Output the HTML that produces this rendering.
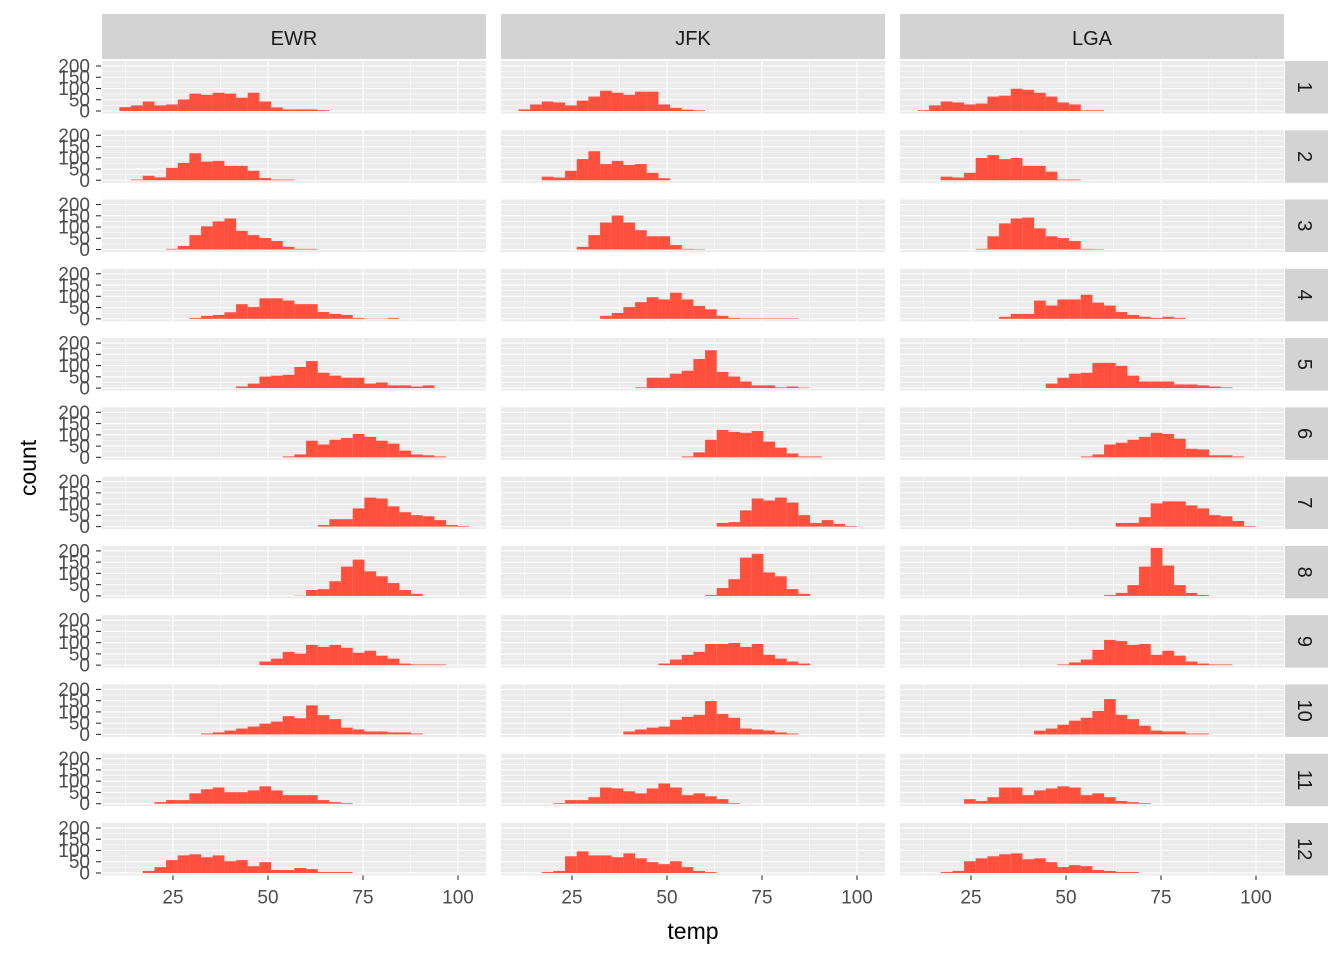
<!DOCTYPE html>
<html><head><meta charset="utf-8"><style>
html,body{margin:0;padding:0;background:#fff;}
svg{display:block;font-family:"Liberation Sans",Arial,sans-serif;}
</style></head><body>
<svg id="chart" width="1344" height="960" viewBox="0 0 1344 960" xmlns="http://www.w3.org/2000/svg"></svg>
<script>
const origins = ["EWR","JFK","LGA"];
const months = ["1","2","3","4","5","6","7","8","9","10","11","12"];
const xTicks = [25,50,75,100];
const yTicks = [0,50,100,150,200];
const binMin = 10.9;
const binWidth = 3.07;
const ewrStart = [0,1,4,6,10,14,17,15,12,7,3,2];
const jfkStart = [0,2,5,7,10,14,17,16,12,9,3,2];
const lgaStart = [0,2,5,7,11,14,17,16,12,10,4,2];
const ewrCounts = [
 [17,25,42,25,29,51,77,72,81,77,59,81,42,16,7,7,7,3],
 [3,20,13,55,77,120,83,86,64,64,42,10,3,3],
 [3,16,64,103,125,138,83,64,51,38,12,3,3],
 [4,13,17,29,65,52,91,91,81,65,65,30,22,17,4,1,1,4],
 [7,20,51,55,59,94,120,68,55,46,46,20,25,12,12,7,12],
 [4,13,74,57,78,86,104,91,74,61,30,13,9,4],
 [7,33,33,81,129,125,90,64,51,46,29,7,3],
 [1,26,30,65,130,161,109,87,57,26,9],
 [16,29,59,51,90,81,90,77,55,64,42,29,7,3,3,3],
 [4,9,17,26,35,48,57,81,72,129,86,68,30,22,13,13,9,9,4],
 [7,16,16,46,64,72,51,51,59,77,59,38,38,38,16,7,3],
 [9,26,57,78,83,70,78,52,57,30,48,13,13,22,17,4,4,4]
];
const jfkCounts = [
 [7,29,42,38,25,46,64,90,81,72,86,86,29,14,6,3],
 [16,12,42,94,129,72,86,68,72,33,9],
 [12,64,120,151,120,86,59,59,20,3,2],
 [13,26,52,74,96,86,116,86,57,42,13,4,2,2,2,2,2],
 [3,46,46,64,77,129,168,72,51,29,12,12,3,7,2],
 [4,22,78,122,113,109,117,70,43,17,4,4],
 [16,20,72,125,116,129,107,51,16,29,12,3],
 [4,35,74,170,187,104,87,30,9],
 [7,25,46,59,94,94,99,81,94,46,29,16,7],
 [13,22,30,35,65,78,87,148,91,74,26,22,17,9,4],
 [3,16,16,29,72,68,55,46,68,90,72,38,46,33,20,3],
 [4,9,74,96,78,78,70,87,65,48,39,52,26,9,4]
];
const lgaCounts = [
 [3,25,42,38,29,33,64,68,99,94,81,64,38,29,3,3],
 [16,12,33,99,112,94,99,64,64,38,3,3],
 [3,59,116,138,142,94,59,51,38,3,2],
 [9,22,22,81,59,86,86,107,72,59,30,17,9,4,9,4],
 [20,46,64,68,112,112,99,55,29,29,29,16,16,12,7,3],
 [4,13,57,65,78,91,109,104,83,38,35,9,9,4],
 [16,16,42,103,112,112,94,81,51,46,25,3],
 [4,13,48,130,213,135,48,13,4],
 [3,12,25,68,112,107,90,94,46,64,42,16,7,3,3],
 [17,26,43,61,74,104,157,87,68,39,17,13,13,4,4],
 [20,12,29,72,72,38,59,68,77,72,38,46,29,12,7,3],
 [4,9,52,65,74,83,87,61,65,48,26,35,30,13,9,4,4]
];
const starts = [ewrStart, jfkStart, lgaStart];
const counts = [ewrCounts, jfkCounts, lgaCounts];

const NS = "http://www.w3.org/2000/svg";
const svg = document.getElementById("chart");
function mk(tag, attrs, parent){
  const e = document.createElementNS(NS, tag);
  for (const k in attrs) e.setAttribute(k, attrs[k]);
  (parent||svg).appendChild(e);
  return e;
}
const panelLeft = [102,501,900];
const panelW = 384;
const xMin = 6.32, xMax = 107.37;
const topY = 61, rowStep = 69.27, panelH = 52.5;
const yMin = -11.1, yMax = 222.2;
function xs(c, v){ return panelLeft[c] + (v - xMin) / (xMax - xMin) * panelW; }
function ys(r, v){ const t = topY + r*rowStep; return t + panelH - (v - yMin)/(yMax - yMin)*panelH; }
const bar = "#FF4F3D";

origins.forEach((o,c)=>{
  const s = mk("rect",{x:panelLeft[c],y:14,width:panelW,height:45,fill:"#D3D3D3"});
  
  
  const t = mk("text",{x:panelLeft[c]+panelW/2,y:45,"text-anchor":"middle","font-size":"20",fill:"#1A1A1A"});
  t.textContent = o;
  
  
});

months.forEach((m,r)=>{
  const top = topY + r*rowStep;
  const rs = mk("rect",{x:1285,y:top,width:43,height:panelH,fill:"#D3D3D3"});
  
  
  const rt = mk("text",{x:0,y:0,"text-anchor":"middle","font-size":"20",fill:"#1A1A1A",transform:`translate(1298,${top+panelH/2}) rotate(90)`});
  rt.textContent = m;
  
  
  yTicks.forEach(v=>{
    const y = ys(r,v);
    const tl = mk("text",{x:90,y:y+6.5,"text-anchor":"end","font-size":"19",fill:"#4D4D4D"});
    tl.textContent = v;
    
    
    mk("line",{x1:96,x2:101,y1:y,y2:y,stroke:"#333","stroke-width":1.1});
  });
  for (let c=0;c<3;c++){
    const g = mk("g",{});
    
    
    mk("rect",{x:panelLeft[c],y:top,width:panelW,height:panelH,fill:"#EBEBEB"},g);
    yTicks.forEach((v,i)=>{
      if (i<yTicks.length-1){ const ym = ys(r,v+25); mk("line",{x1:panelLeft[c],x2:panelLeft[c]+panelW,y1:ym,y2:ym,stroke:"#fff","stroke-width":0.55},g); }
    });
    [12.5,37.5,62.5,87.5].forEach(v=>{ const x=xs(c,v); mk("line",{x1:x,x2:x,y1:top,y2:top+panelH,stroke:"#fff","stroke-width":0.55},g); });
    yTicks.forEach(v=>{ const y=ys(r,v); mk("line",{x1:panelLeft[c],x2:panelLeft[c]+panelW,y1:y,y2:y,stroke:"#fff","stroke-width":1.1},g); });
    xTicks.forEach(v=>{ const x=xs(c,v); mk("line",{x1:x,x2:x,y1:top,y2:top+panelH,stroke:"#fff","stroke-width":1.1},g); });
    const st = starts[c][r], cs = counts[c][r];
    cs.forEach((n,i)=>{
      const k = st + i;
      const x0 = xs(c, binMin + k*binWidth), x1 = xs(c, binMin + (k+1)*binWidth);
      const b = mk("rect",{x:x0,y:ys(r,n),width:x1-x0,height:ys(r,0)-ys(r,n),fill:bar},g);
      
      
    });
  }
});

const bottom = topY + 11*rowStep + panelH;
for (let c=0;c<3;c++){
  xTicks.forEach(v=>{
    const x = xs(c,v);
    mk("line",{x1:x,x2:x,y1:bottom,y2:bottom+4.5,stroke:"#333","stroke-width":1.1});
    const t = mk("text",{x:x,y:bottom+28,"text-anchor":"middle","font-size":"19",fill:"#4D4D4D"});
    t.textContent = v;
    
    
  });
}
const xt = mk("text",{x:693,y:939,"text-anchor":"middle","font-size":"23",fill:"#000"});
xt.textContent = "temp";


const yt = mk("text",{x:0,y:0,"text-anchor":"middle","font-size":"23",fill:"#000",transform:"translate(36,468) rotate(-90)"});
yt.textContent = "count";


</script>
</body></html>
